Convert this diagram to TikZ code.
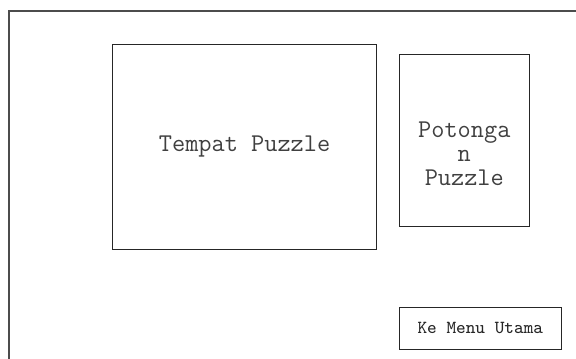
\documentclass[tikz,border=0pt]{standalone}
\usepackage{fontspec}
\usetikzlibrary{positioning}

\begin{document}
\begin{tikzpicture}[x=0.5pt,y=-0.5pt,
  kotak/.style={draw=black!85,line width=0.5pt,inner sep=0pt},
  teks/.style={text=black!75,font=\ttfamily\fontsize{12.8}{12}\selectfont,align=center}]
\useasboundingbox (0,0) rectangle (576,358);
% bingkai layar
\coordinate (kiribawah) at (8.5,370);
\coordinate (kiriatas) at (8.5,11);
\coordinate (kananatas) at (590,11);
\draw[line width=1pt,black!70] (kiribawah)--(kiriatas)--(kananatas);
% area puzzle
\node[kotak,teks,minimum width=132.1pt,minimum height=102.6pt] (tempat) at (244.6,146.7) {Tempat Puzzle};
\node[kotak,minimum width=65pt,minimum height=85.8pt] (potongan) at (464.3,140.8) {};
\node[teks] (tekspotongan) at ([yshift=-6.3pt]potongan.center) {Potonga\\n\\Puzzle};
% tombol
\node[kotak,text=black!85,font=\ttfamily\fontsize{9.2}{10}\selectfont,minimum width=81.3pt,minimum height=20.8pt] (menu) at (480.3,328.2) {Ke Menu Utama};
\end{tikzpicture}
\end{document}
